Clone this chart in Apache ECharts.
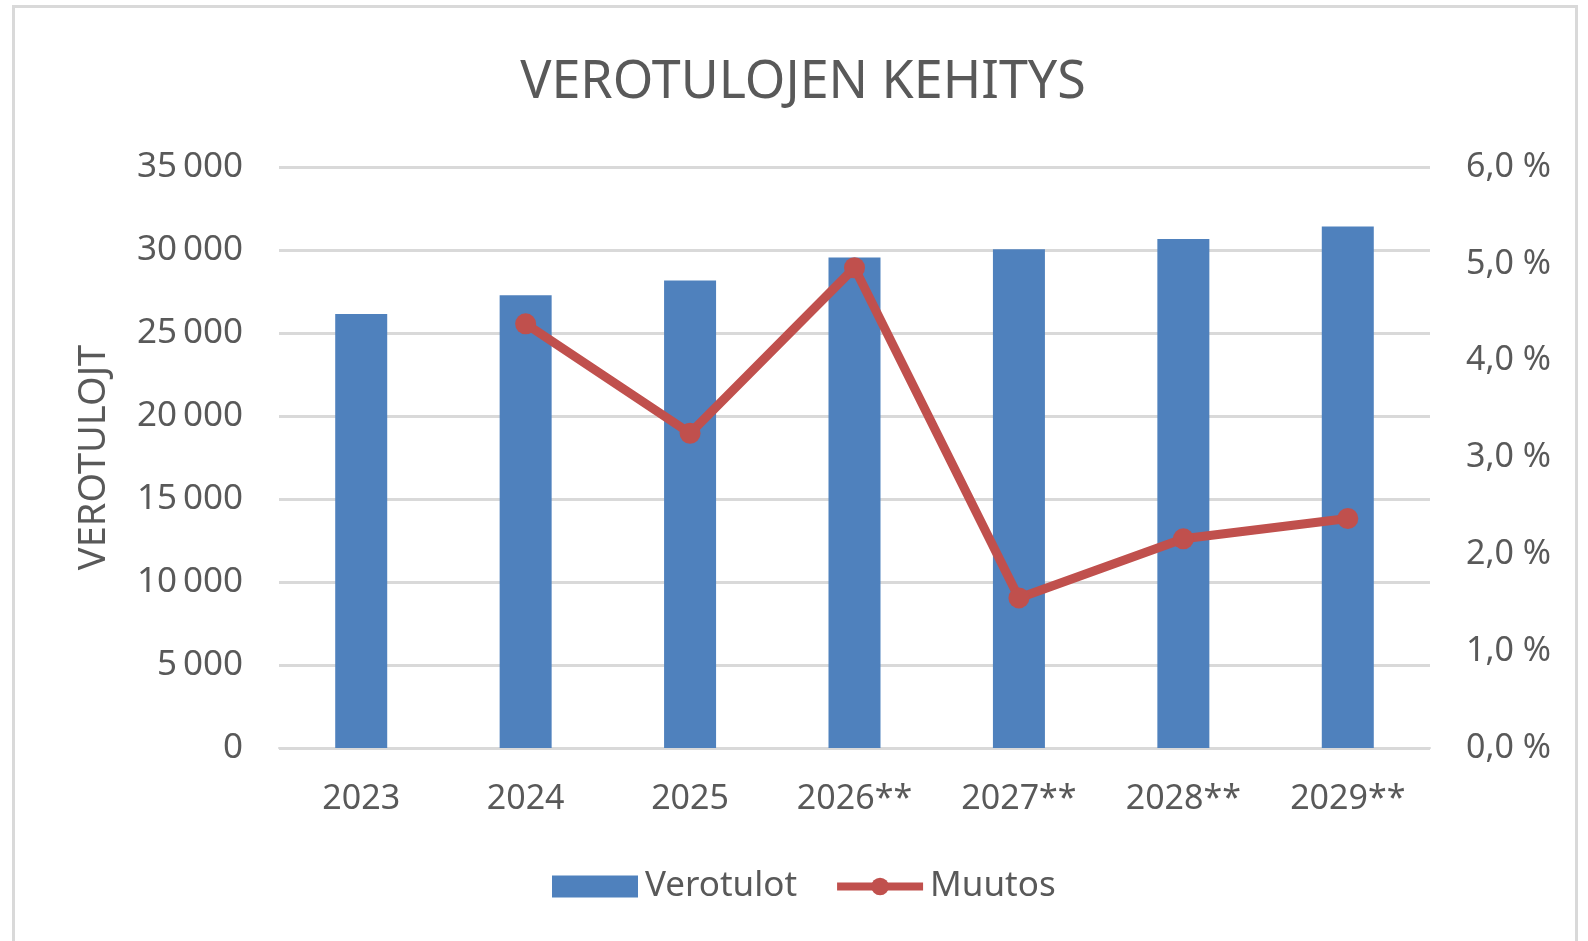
<!DOCTYPE html>
<html>
<head>
<meta charset="utf-8">
<script src="https://cdn.jsdelivr.net/npm/echarts@6/dist/echarts.min.js"></script>
<style>
  html, body { margin: 0; padding: 0; background: #fff; }
  #frame { position: absolute; left: 12px; top: 5px; width: 1566px; height: 960px; border: 3px solid #d9d9d9; box-sizing: border-box; }
  #chart { position: absolute; left: 0; top: 0; width: 1588px; height: 941px; }
</style>
</head>
<body>
<div id="frame"></div>
<div id="chart"></div>
<script>
// Vuosittaiset verotulot ja muutosprosentti
const years = ['2023', '2024', '2025', '2026**', '2027**', '2028**', '2029**'];
const verotulot = [26150, 27280, 28170, 29550, 30050, 30670, 31410];
const muutos = [null, 4.38, 3.25, 4.96, 1.55, 2.16, 2.37];
const leftTicks = [0, 5000, 10000, 15000, 20000, 25000, 30000, 35000];
const rightTicks = [0, 1, 2, 3, 4, 5, 6];

const textColor = '#595959';
const font = 'Noto Sans';

const fmtThousands = v => {
  const s = String(Math.round(v));
  return s.replace(/\B(?=(\d{3})+(?!\d))/g, '\u2009');
};
const fmtPct = v => v.toFixed(1).replace('.', ',') + ' %';

const chart = echarts.init(document.getElementById('chart'));
chart.setOption({
  backgroundColor: 'transparent',
  animation: false,
  textStyle: { fontFamily: font, color: textColor },
  title: {
    text: 'VEROTULOJEN KEHITYS',
    left: 798, top: 52, textAlign: 'center',
    textStyle: { fontFamily: font, fontSize: 52, fontWeight: 'normal', color: textColor }
  },
  legend: {
    top: 864, left: 547,
    itemGap: 36,
    textStyle: { fontFamily: font, fontSize: 35, color: textColor, padding: [0, 0, 0, 2] },
    lineStyle: { width: 8 },
    data: [
      { name: 'Verotulot', icon: 'rect' },
      { name: 'Muutos' }
    ],
    itemWidth: 86, itemHeight: 22
  },
  grid: { left: 279, right: 158, top: 167, bottom: 193, containLabel: false },
  xAxis: {
    type: 'category',
    data: years,
    axisLine: { lineStyle: { color: '#d9d9d9', width: 2 } },
    axisTick: { show: false },
    axisLabel: { fontFamily: font, fontSize: 34, color: textColor, margin: 34 }
  },
  yAxis: [
    {
      type: 'value', min: leftTicks[0], max: leftTicks[leftTicks.length - 1], interval: 5000,
      name: 'VEROTULOJT', nameLocation: 'middle', nameGap: 166, nameRotate: 90,
      nameTextStyle: { fontFamily: font, fontSize: 38, color: textColor },
      axisLine: { show: false }, axisTick: { show: false },
      axisLabel: { fontFamily: font, fontSize: 35, color: textColor, margin: 36, formatter: fmtThousands },
      splitLine: { lineStyle: { color: '#d9d9d9', width: 3 } }
    },
    {
      type: 'value', min: rightTicks[0], max: rightTicks[rightTicks.length - 1], interval: 1,
      position: 'right',
      axisLine: { show: false }, axisTick: { show: false },
      axisLabel: { fontFamily: font, fontSize: 34, color: textColor, margin: 36, formatter: fmtPct },
      splitLine: { show: false }
    }
  ],
  series: [
    {
      name: 'Verotulot', type: 'bar', data: verotulot, barWidth: 52,
      itemStyle: { color: '#4f81bd' }
    },
    {
      name: 'Muutos', type: 'line', yAxisIndex: 1, data: muutos,
      symbol: 'circle', symbolSize: 21,
      lineStyle: { color: '#c0504d', width: 9 },
      itemStyle: { color: '#c0504d' }
    }
  ]
});
</script>
</body>
</html>
